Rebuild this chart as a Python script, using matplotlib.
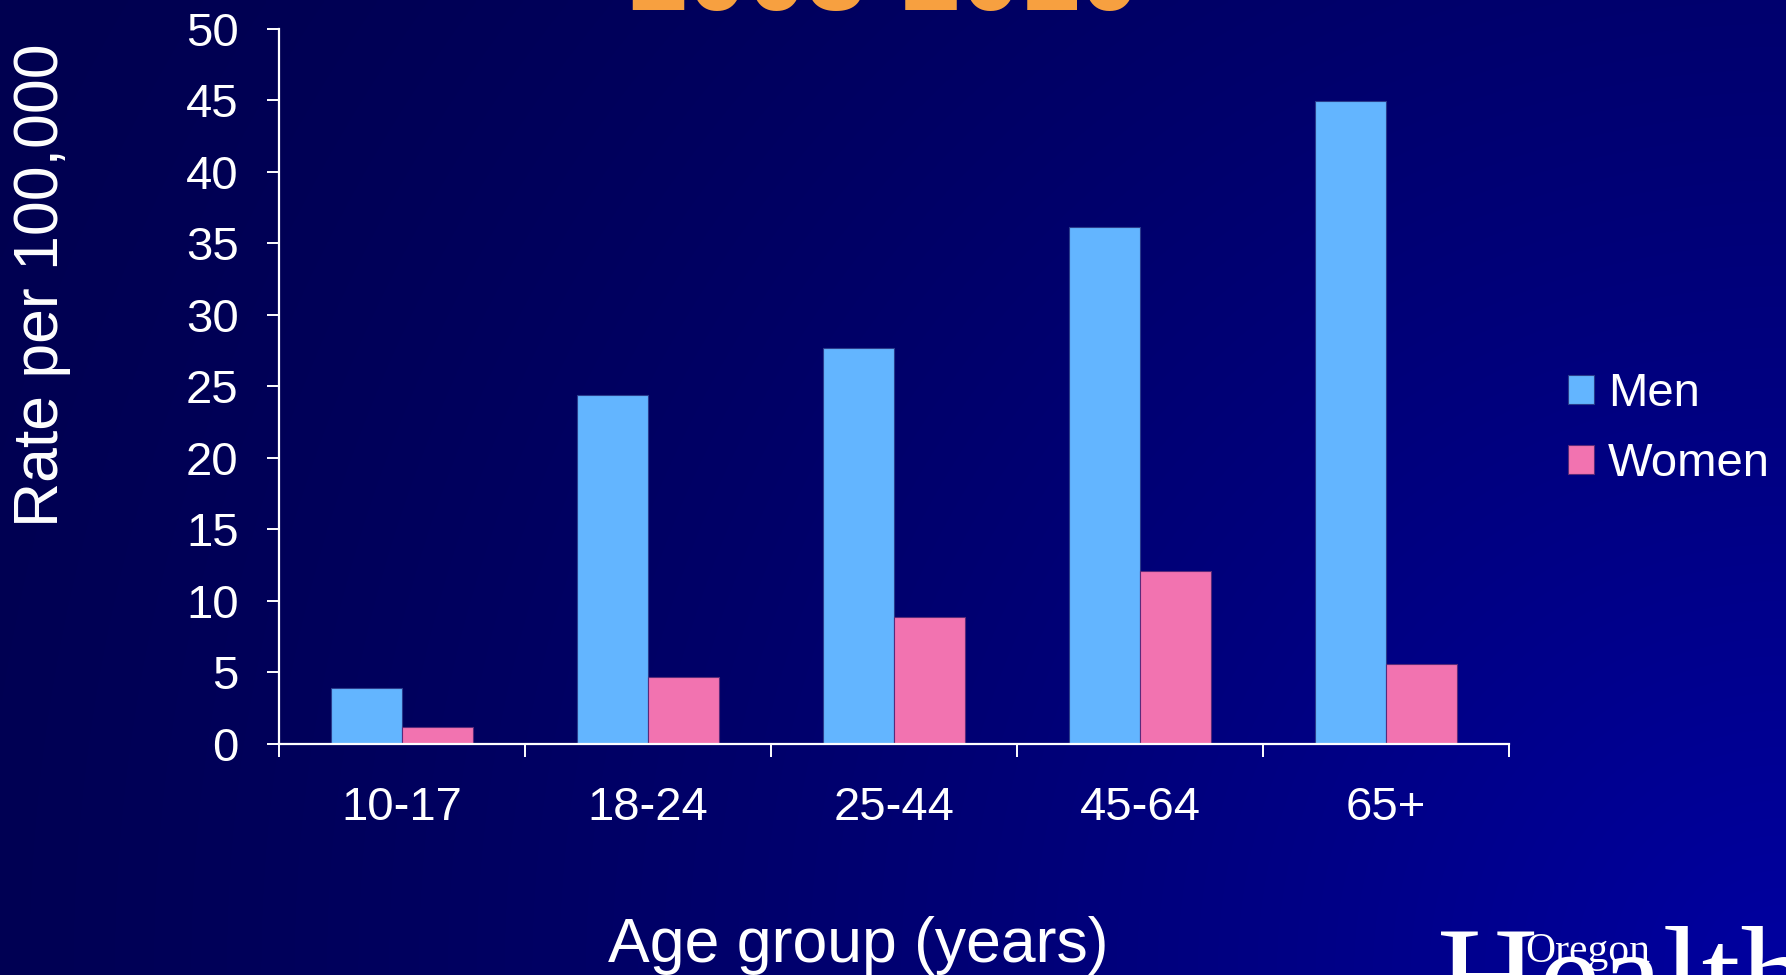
import numpy as np
import matplotlib
matplotlib.use('Agg')
import matplotlib.pyplot as plt

plt.rcParams['font.family'] = ['Liberation Sans', 'DejaVu Sans']

# Data
age_groups = ['10-17', '18-24', '25-44', '45-64', '65+']
men = [3.9, 24.4, 27.7, 36.1, 44.9]
women = [1.2, 4.7, 8.9, 12.1, 5.6]
y_ticks = [0, 5, 10, 15, 20, 25, 30, 35, 40, 45, 50]

men_color = '#63B5FF'
women_color = '#F273B0'
title_color = '#F7A040'

W, H = 1786, 975
fig = plt.figure(figsize=(W / 100, H / 100), dpi=100)

# Background: dark navy gradient, lighter towards the bottom right
bg = fig.add_axes([0, 0, 1, 1])
xx, yy = np.meshgrid(np.linspace(0, 1, 400), np.linspace(1, 0, 220))
d = np.sqrt(((1 - xx) * W) ** 2 + (yy * H) ** 2) / np.sqrt(W ** 2 + H ** 2)
t = np.clip(1 - d, 0, 1) ** 1.5
img = np.zeros(xx.shape + (3,))
img[..., 2] = (80 + (160 - 80) * t) / 255.0
bg.imshow(img, aspect='auto', extent=[0, 1, 0, 1], interpolation='bilinear')
bg.set_axis_off()

ax = fig.add_axes([279 / W, 1 - 744 / H, (1509 - 279) / W, (744 - 28.5) / H])
ax.set_facecolor('none')

x = np.arange(len(age_groups))
w = 0.287
b1 = ax.bar(x - w / 2, men, w, color=men_color, edgecolor='#2a3c8c', linewidth=0.8, label='Men')
b2 = ax.bar(x + w / 2, women, w, color=women_color, edgecolor='#5a2a7a', linewidth=0.8, label='Women')

ax.set_xlim(-0.5, len(age_groups) - 0.5)
ax.set_ylim(0, 50)
ax.set_yticks(y_ticks)
ax.set_yticklabels([str(v) for v in y_ticks])

# category boundaries get the tick marks, labels sit in the middle
ax.set_xticks(np.arange(len(age_groups) + 1) - 0.5)
ax.set_xticklabels([])
ax.set_xticks(x, minor=True)
ax.set_xticklabels(age_groups, minor=True)

for side in ['top', 'right']:
    ax.spines[side].set_visible(False)
for side in ['left', 'bottom']:
    ax.spines[side].set_color('white')
    ax.spines[side].set_linewidth(1.6)

ax.tick_params(axis='y', colors='white', labelsize=34, length=9, width=1.4, pad=20)
ax.tick_params(axis='x', which='major', colors='white', length=9, width=1.4, direction='out')
ax.tick_params(axis='x', which='minor', colors='white', labelsize=34, length=0, pad=30)

fig.text(42 / W, 1 - 285 / H, 'Rate per 100,000', rotation=90, color='white',
         fontsize=45, ha='center', va='center')
fig.text(858 / W, 1 - 962 / H, 'Age group (years)', color='white',
         fontsize=45, ha='center', va='baseline')

# title, mostly cut off at the top edge
fig.text(884 / W, 1 - 10 / H, '2003-2010', color=title_color, fontsize=77,
         fontweight='bold', ha='center', va='baseline')

leg = fig.legend(handles=[b1, b2], loc='center left',
                 bbox_to_anchor=(1568 / W, 1 - 429 / H), frameon=False,
                 fontsize=34, handlelength=0.55, handleheight=0.55,
                 handletextpad=0.3, labelspacing=0.55, borderpad=0, borderaxespad=0)
for txt in leg.get_texts():
    txt.set_color('white')

# logo at the bottom right, cut off by the edge
fig.text(1437 / W, 1 - 1023 / H, 'Health', color='white', fontsize=101,
         family='Liberation Serif', ha='left', va='baseline')
fig.text(1525 / W, 1 - 962 / H, 'Oregon', color='white', fontsize=30,
         family='Liberation Serif', ha='left', va='baseline')

fig.savefig('out.png', dpi=100)
